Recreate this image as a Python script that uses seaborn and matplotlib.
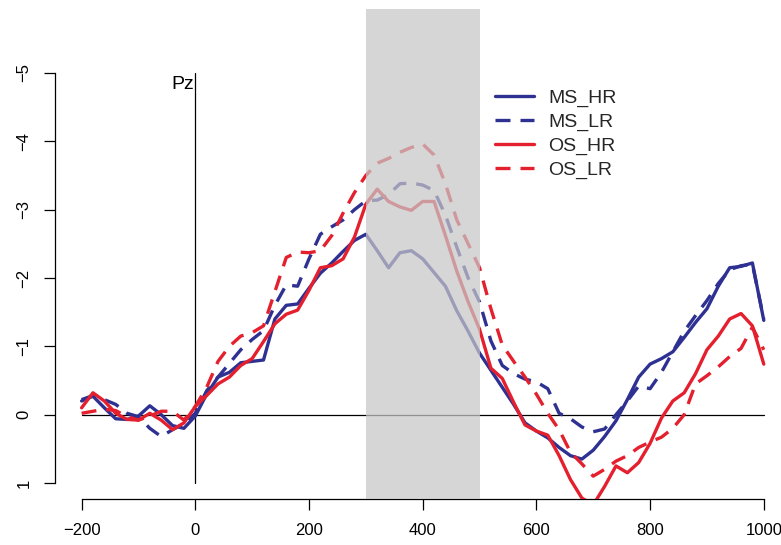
import numpy as np
import pandas as pd
import matplotlib
matplotlib.use("Agg")
import matplotlib.pyplot as plt
from matplotlib.lines import Line2D
from matplotlib.patches import Rectangle
import seaborn as sns

# ---- data (time in ms, amplitude in microvolts) ----
times = list(range(-200, 1001, 20))

ms_hr = [-0.20, -0.27, -0.10, 0.06, 0.07, 0.02, -0.13, 0.00, 0.16, 0.20,
         0.02, -0.30, -0.55, -0.62, -0.76, -0.78, -0.80, -1.40, -1.60, -1.62,
         -1.85, -2.07, -2.22, -2.39, -2.55, -2.64, -2.40, -2.15, -2.37, -2.40,
         -2.28, -2.08, -1.88, -1.52, -1.22, -0.90, -0.65, -0.40, -0.15, 0.12,
         0.24, 0.34, 0.48, 0.60, 0.65, 0.52, 0.32, 0.09, -0.22, -0.55,
         -0.74, -0.82, -0.92, -1.13, -1.35, -1.55, -1.88, -2.15, -2.17, -2.22,
         -1.38]

ms_lr = [-0.22, -0.28, -0.22, -0.15, -0.02, 0.03, 0.20, 0.32, 0.22, 0.13,
         -0.02, -0.35, -0.55, -0.75, -0.95, -1.10, -1.23, -1.60, -1.90, -1.88,
         -2.28, -2.64, -2.75, -2.85, -3.00, -3.13, -3.14, -3.22, -3.38, -3.39,
         -3.36, -3.28, -2.92, -2.45, -2.00, -1.65, -1.08, -0.72, -0.60, -0.52,
         -0.48, -0.38, -0.02, 0.06, 0.18, 0.25, 0.21, 0.00, -0.20, -0.42,
         -0.38, -0.62, -0.92, -1.22, -1.45, -1.67, -1.92, -2.12, -2.18, -2.20,
         -1.40]

os_hr = [-0.10, -0.32, -0.20, -0.02, 0.07, 0.08, -0.02, 0.08, 0.22, 0.12,
         -0.12, -0.28, -0.45, -0.55, -0.72, -0.82, -1.07, -1.33, -1.47, -1.53,
         -1.82, -2.15, -2.18, -2.28, -2.60, -3.08, -3.30, -3.12, -3.04, -2.99,
         -3.12, -3.12, -2.62, -2.10, -1.65, -1.25, -0.68, -0.53, -0.18, 0.15,
         0.24, 0.30, 0.60, 0.95, 1.22, 1.32, 1.05, 0.75, 0.85, 0.70,
         0.42, 0.05, -0.20, -0.32, -0.60, -0.95, -1.15, -1.40, -1.48, -1.30,
         -0.74]

os_lr = [-0.02, -0.05, -0.08, -0.06, 0.03, 0.08, 0.02, -0.05, -0.05, 0.08,
         -0.12, -0.40, -0.78, -1.00, -1.15, -1.20, -1.30, -1.80, -2.30, -2.38,
         -2.37, -2.40, -2.62, -2.95, -3.25, -3.50, -3.68, -3.75, -3.84, -3.91,
         -3.96, -3.80, -3.38, -2.85, -2.50, -2.15, -1.55, -1.02, -0.78, -0.55,
         -0.30, -0.02, 0.22, 0.55, 0.72, 0.90, 0.80, 0.68, 0.60, 0.48,
         0.40, 0.33, 0.20, 0.00, -0.45, -0.57, -0.70, -0.85, -0.97, -1.28,
         -0.95]

conditions = ["MS_HR", "MS_LR", "OS_HR", "OS_LR"]
series = [ms_hr, ms_lr, os_hr, os_lr]
x_ticks = [-200, 0, 200, 400, 600, 800, 1000]
y_ticks = [-5, -4, -3, -2, -1, 0, 1]
window = (300, 500)
channel = "Pz"

# ---- styling ----
BLUE = "#2E3192"
RED = "#E5202E"
palette = {"MS_HR": BLUE, "MS_LR": BLUE, "OS_HR": RED, "OS_LR": RED}
DASH = (4.5, 3.0)
dashes = {"MS_HR": "", "MS_LR": DASH, "OS_HR": "", "OS_LR": DASH}

df = pd.concat([pd.DataFrame({"time": times, "amp": s, "cond": c})
                for c, s in zip(conditions, series)], ignore_index=True)

sns.set_theme(style="white")
plt.rcParams["font.family"] = ["Liberation Sans", "DejaVu Sans"]

W, H = 781, 545
fig = plt.figure(figsize=(W / 100, H / 100), dpi=100)
ax_left, ax_right = 55, 781
ax_top, ax_bottom = 56.6, 499.4
ax = fig.add_axes([ax_left / W, 1 - ax_bottom / H,
                   (ax_right - ax_left) / W, (ax_bottom - ax_top) / H])
ax.set_facecolor("white")

LW = 2.4
sns.lineplot(data=df, x="time", y="amp", hue="cond", style="cond",
             palette=palette, dashes=dashes, estimator=None, sort=False,
             linewidth=LW, legend=False, ax=ax, zorder=3)
for ln in ax.get_lines():
    ln.set_solid_capstyle("round")
    ln.set_solid_joinstyle("round")
    ln.set_dash_joinstyle("round")
    ln.set_dash_capstyle("butt")

# reference lines
ax.plot([x_ticks[0], x_ticks[-1]], [0, 0], color="black", lw=0.9, zorder=2)
ax.plot([0, 0], [y_ticks[0], y_ticks[-1]], color="black", lw=0.9, zorder=2)

# shaded analysis window (drawn over the curves, translucent)
ax.add_patch(Rectangle((window[0], -5.93), window[1] - window[0], 7.17,
                       facecolor=(0.78, 0.78, 0.78), alpha=0.72,
                       edgecolor="none", zorder=5, clip_on=False))

ax.set_xlim(-246.8, 1030.3)
ax.set_ylim(1.24, -5.24)

for s in ["top", "right"]:
    ax.spines[s].set_visible(False)
for s in ["left", "bottom"]:
    ax.spines[s].set_color("black")
    ax.spines[s].set_linewidth(0.9)
ax.spines["bottom"].set_bounds(x_ticks[0], x_ticks[-1])
ax.spines["left"].set_bounds(y_ticks[-1], y_ticks[0])


def fmt(v):
    return ("\u2212" + str(-v)) if v < 0 else str(v)


ax.set_xticks(x_ticks)
ax.set_yticks(y_ticks)
ax.set_xticklabels([fmt(v) for v in x_ticks])
ax.set_yticklabels([fmt(v) for v in y_ticks])
ax.tick_params(axis="both", direction="out", length=8, width=0.9,
               color="black", labelsize=12, labelcolor="black")
ax.tick_params(axis="x", pad=9, bottom=True)
ax.tick_params(axis="y", pad=9, left=True, labelrotation=90)
for lab in ax.get_yticklabels():
    lab.set_va("center")
ax.set_xlabel("")
ax.set_ylabel("")
ax.grid(False)

ax.text(-2, -4.96, channel, ha="right", va="top", fontsize=14, color="black")

handles = [Line2D([], [], color=palette[c], lw=LW,
                  linestyle="-" if dashes[c] == "" else (0, DASH))
           for c in conditions]
fig.legend(handles, conditions, loc="upper left",
           bbox_to_anchor=(495 / W, 1 - 89 / H), bbox_transform=fig.transFigure,
           frameon=False, fontsize=14, handlelength=2.0, handletextpad=0.75,
           labelspacing=0.33, borderpad=0, borderaxespad=0)

fig.savefig("out.png", dpi=100)
